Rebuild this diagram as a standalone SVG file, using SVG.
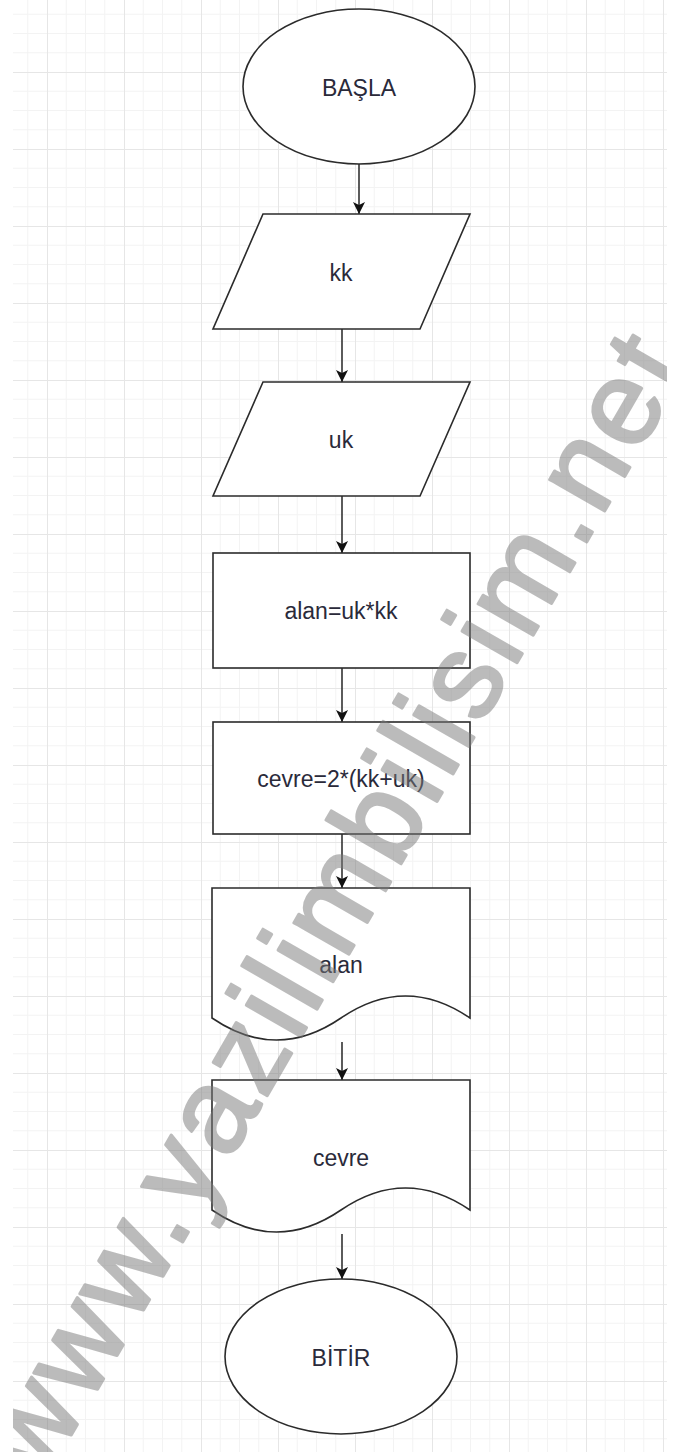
<svg xmlns="http://www.w3.org/2000/svg" width="679" height="1453" viewBox="0 0 679 1453">
  <defs>
    <pattern id="grid" x="47" y="72" width="77" height="77" patternUnits="userSpaceOnUse">
      <path d="M19.25,0 V77 M38.5,0 V77 M57.75,0 V77 M0,19.25 H77 M0,38.5 H77 M0,57.75 H77" stroke="#f3f3f3" stroke-width="1" fill="none"/>
      <path d="M0.5,0 V77 M0,0.5 H77" stroke="#e6e6e6" stroke-width="1" fill="none"/>
    </pattern>
    <clipPath id="shot">
      <rect x="13" y="0" width="654" height="1452"/>
    </clipPath>
    <marker id="arrow" markerUnits="userSpaceOnUse" markerWidth="13" markerHeight="13" refX="12" refY="6.5" orient="auto">
      <path d="M0,0.5 L12,6.5 L0,12.5 L3,6.5 Z" fill="#111"/>
    </marker>
    <style>
      .shape { fill: #ffffff; stroke: #2b2b2b; stroke-width: 1.6; }
      .label { font-family: "Liberation Sans", Arial, sans-serif; font-size: 23px; fill: #2a2a3a; text-anchor: middle; }
      .conn { stroke: #333333; stroke-width: 1.6; fill: none; marker-end: url(#arrow); }
      .wm { font-family: "Liberation Sans", Arial, sans-serif; font-size: 120px; letter-spacing: 5px; fill: #7a7a7a; stroke: #7a7a7a; stroke-width: 3; stroke-linejoin: round; }
    </style>
  </defs>

  <rect x="0" y="0" width="679" height="1453" fill="#ffffff"/>
  <rect x="13" y="0" width="654" height="1452" fill="url(#grid)"/>

  <g id="connectors">
    <line class="conn" x1="359" y1="164" x2="359" y2="214"/>
    <line class="conn" x1="342" y1="329" x2="342" y2="382"/>
    <line class="conn" x1="342" y1="496" x2="342" y2="553"/>
    <line class="conn" x1="342" y1="668" x2="342" y2="722"/>
    <line class="conn" x1="342" y1="834" x2="342" y2="888"/>
    <line class="conn" x1="342" y1="1042" x2="342" y2="1080"/>
    <line class="conn" x1="342" y1="1234" x2="342" y2="1279"/>
  </g>

  <g id="start">
    <ellipse class="shape" cx="359" cy="86.5" rx="116" ry="77.5"/>
    <text class="label" x="359" y="96">BAŞLA</text>
  </g>

  <g id="input-kk">
    <polygon class="shape" points="263,214 470,214 420,329 213,329"/>
    <text class="label" x="341" y="281">kk</text>
  </g>

  <g id="input-uk">
    <polygon class="shape" points="263,382 470,382 420,496 213,496"/>
    <text class="label" x="341" y="448">uk</text>
  </g>

  <g id="process-alan">
    <rect class="shape" x="213" y="553" width="257" height="115"/>
    <text class="label" x="341" y="619">alan=uk*kk</text>
  </g>

  <g id="process-cevre">
    <rect class="shape" x="213" y="722" width="257" height="112"/>
    <text class="label" x="341" y="787">cevre=2*(kk+uk)</text>
  </g>

  <g id="output-alan">
    <path class="shape" d="M212,888 H470 V1018 Q405.5,973.9 341,1018 Q276.5,1062.1 212,1018 Z"/>
    <text class="label" x="341" y="973">alan</text>
  </g>

  <g id="output-cevre">
    <path class="shape" d="M212,1080 H470 V1210 Q405.5,1165.9 341,1210 Q276.5,1254.1 212,1210 Z"/>
    <text class="label" x="341" y="1166">cevre</text>
  </g>

  <g id="end">
    <ellipse class="shape" cx="341" cy="1356.5" rx="116" ry="77.5"/>
    <text class="label" x="341" y="1366">BİTİR</text>
  </g>

  <g id="watermark" clip-path="url(#shot)" opacity="0.5">
    <text class="wm" transform="translate(43,1484) rotate(-60)" x="0" y="0">www.yazilimbilisim.net</text>
  </g>
</svg>
